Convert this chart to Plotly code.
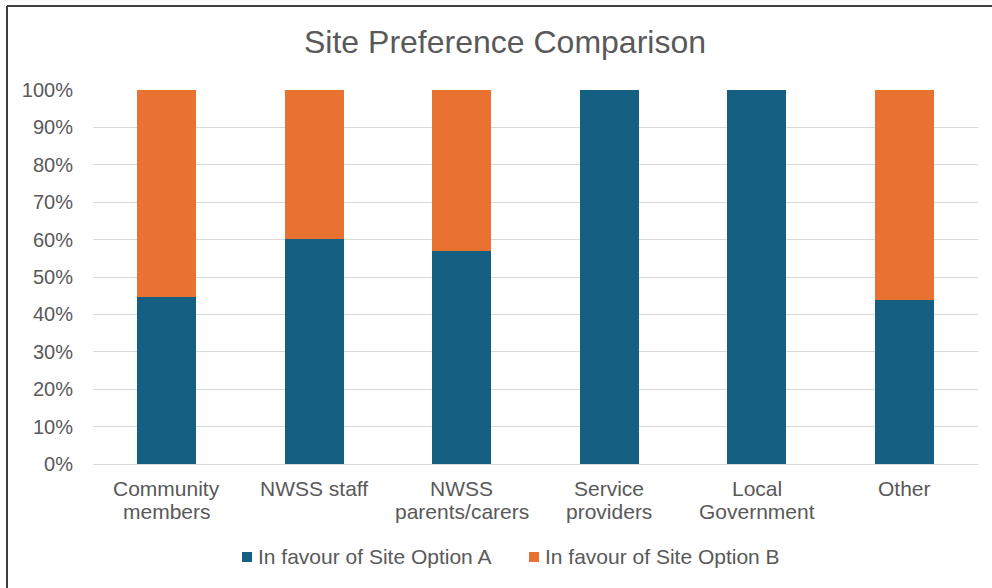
import plotly.graph_objects as go

categories = ["Community<br>members", "NWSS staff", "NWSS<br>parents/carers",
              "Service<br>providers", "Local<br>Government", "Other"]
series_names = ["In favour of Site Option A", "In favour of Site Option B"]
option_a = [44.6, 60.2, 56.9, 100, 100, 43.9]
option_b = [round(100 - v, 1) for v in option_a]
y_ticks = list(range(0, 101, 10))
y_tick_labels = [f"{t}%" for t in y_ticks]

W, H = 992, 588
ML, MR, MT, MB = 93, 14, 90, 124
pw, ph = W - ML - MR, H - MT - MB
TXT = "#595959"
COLORS = ["#156082", "#E97132"]
FONT = "Liberation Sans, Arial, sans-serif"

def px_x(x):
    return (x - ML) / pw

def px_y(y):
    return (H - MB - y) / ph

fig = go.Figure()
for name, vals, col in zip(series_names, [option_a, option_b], COLORS):
    fig.add_trace(go.Bar(x=categories, y=vals, name=name, showlegend=False,
                         marker=dict(color=col, line=dict(width=0))))

fig.update_layout(
    width=W, height=H,
    barmode="stack", bargap=0.6,
    margin=dict(l=ML, r=MR, t=MT, b=MB),
    paper_bgcolor="white", plot_bgcolor="white",
    font=dict(family=FONT, color=TXT, size=20),
    title=dict(text="Site Preference Comparison", x=505 / W, xanchor="center",
               y=1 - 42 / H, yanchor="middle",
               font=dict(size=32, color=TXT)),
    showlegend=False,
)
fig.update_xaxes(showgrid=False, showline=True, linecolor="#d9d9d9", linewidth=1,
                 showticklabels=False, ticks="", fixedrange=True)
fig.update_yaxes(range=[0, 100], tickvals=y_ticks, ticktext=y_tick_labels,
                 showgrid=True, gridcolor="#d9d9d9", gridwidth=1, zeroline=False,
                 tickfont=dict(size=20, color=TXT), ticks="", ticklabelstandoff=19,
                 fixedrange=True)

# category labels (tight line spacing like the original)
line_centers = [488, 511.5]
for cat in categories:
    for i, line in enumerate(cat.split("<br>")):
        fig.add_annotation(x=cat, xref="x", y=px_y(line_centers[i]), yref="paper",
                           text=line, showarrow=False, xanchor="center", yanchor="middle",
                           font=dict(size=21, color=TXT, family=FONT))

# legend (small squares with text right beside them)
legend_sq_x = [242, 529]
legend_cy = 557
for name, col, sx in zip(series_names, COLORS, legend_sq_x):
    fig.add_shape(type="rect", xref="paper", yref="paper",
                  x0=px_x(sx), x1=px_x(sx + 10), y0=px_y(legend_cy - 5), y1=px_y(legend_cy + 5),
                  fillcolor=col, line=dict(width=0))
    fig.add_annotation(x=px_x(sx + 14), xref="paper", y=px_y(legend_cy - 1), yref="paper",
                       text=name, showarrow=False, xanchor="left", yanchor="middle",
                       font=dict(size=21, color=TXT, family=FONT))

# outer chart border (left and top edges visible)
fig.add_shape(type="line", xref="paper", yref="paper",
              x0=px_x(7), x1=px_x(W + 5), y0=px_y(6), y1=px_y(6),
              line=dict(color="#404040", width=2))
fig.add_shape(type="line", xref="paper", yref="paper",
              x0=px_x(7), x1=px_x(7), y0=px_y(6), y1=px_y(H + 5),
              line=dict(color="#404040", width=2))

fig.write_html("out.html", config={"displayModeBar": False},
               post_script="document.body.style.margin='0px';document.body.style.overflow='hidden';")
